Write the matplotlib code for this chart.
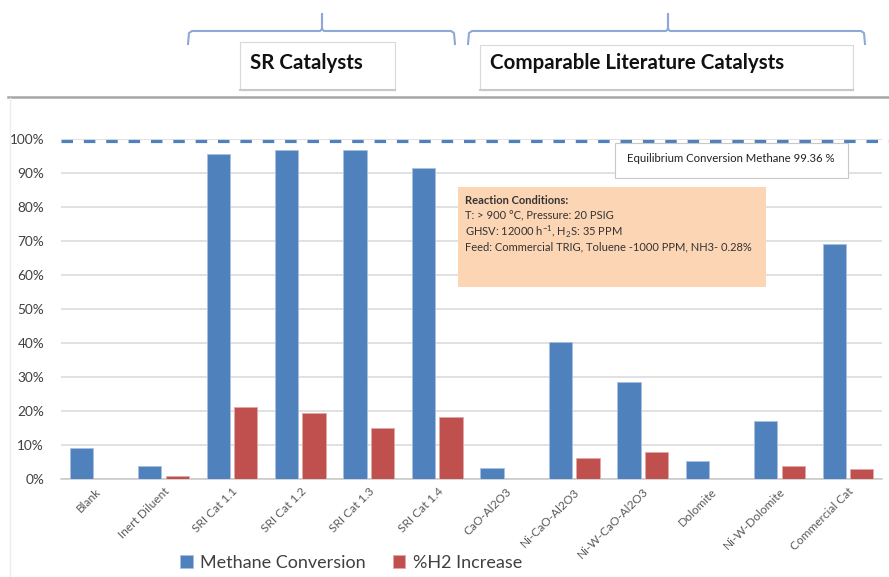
import matplotlib.pyplot as plt
from matplotlib.lines import Line2D
from matplotlib.patches import Rectangle
import numpy as np

plt.rcParams['font.family'] = ['Lato', 'DejaVu Sans']
plt.rcParams['mathtext.default'] = 'regular'

catalysts = ['Blank', 'Inert Diluent', 'SRI Cat 1.1', 'SRI Cat 1.2', 'SRI Cat 1.3',
             'SRI Cat 1.4', 'CaO-Al2O3', 'Ni-CaO-Al2O3', 'Ni-W-CaO-Al2O3',
             'Dolomite', 'Ni-W-Dolomite', 'Commercial Cat']
methane_conv = [0.092, 0.038, 0.956, 0.968, 0.968, 0.915, 0.032, 0.403, 0.285,
                0.053, 0.171, 0.691]
h2_increase = [0.0, 0.010, 0.212, 0.194, 0.150, 0.182, 0.0, 0.062, 0.079,
               0.0, 0.038, 0.029]
equilibrium = 0.9936
yticks = [0, 0.1, 0.2, 0.3, 0.4, 0.5, 0.6, 0.7, 0.8, 0.9, 1.0]

blue = '#4F81BD'
red = '#C0504D'
txt = '#404040'

W, H = 889, 577
fig = plt.figure(figsize=(W / 100, H / 100), dpi=100)


def px(x, y):
    # pixel position (from top left) -> figure fraction
    return x / W, 1 - y / H


ax = fig.add_axes([60.8 / W, 98 / H, 821.4 / W, 340 / H])

x = np.arange(len(catalysts))
ax.bar(x - 0.2, methane_conv, 0.34, color=blue, edgecolor='#A9C1E0', lw=0.6,
       label='Methane Conversion', zorder=3)
ax.bar(x + 0.2, h2_increase, 0.34, color=red, edgecolor='#E0A9A7', lw=0.6,
       label='%H2 Increase', zorder=3)

ax.set_xlim(-0.5, len(catalysts) - 0.5)
ax.set_ylim(0, 1.0)
ax.set_yticks(yticks)
ax.set_yticklabels(['%d%%' % round(v * 100) for v in yticks], fontsize=9.8, color=txt)
ax.set_xticks(x)
ax.set_xticklabels(catalysts, rotation=45, ha='right', rotation_mode='anchor',
                   fontsize=8.6, color='#595959')
ax.tick_params(length=0)
ax.tick_params(axis='x', pad=5)
ax.tick_params(axis='y', pad=12)
ax.yaxis.grid(True, color='#D9D9D9', lw=1.1, zorder=0)
for s in ['left', 'right', 'top']:
    ax.spines[s].set_visible(False)
ax.spines['bottom'].set_color('#C8C8C8')
ax.spines['bottom'].set_linewidth(1.1)

# equilibrium conversion line
eq = ax.axhline(equilibrium, xmin=0, xmax=1.01, color=blue, lw=2.3,
                dashes=(3.6, 3.4), clip_on=False, zorder=4)

# equilibrium label box
x0, y0 = px(615, 178)
x1, y1 = px(848, 143)
fig.add_artist(Rectangle((x0, y0), x1 - x0, y1 - y0, transform=fig.transFigure,
                         facecolor='white', edgecolor='#C8C8C8', lw=0.8, zorder=5))
fig.text(*px(731, 159), 'Equilibrium Conversion Methane 99.36 %', ha='center',
         va='center', fontsize=8.2, color='#222222', zorder=6)

# reaction conditions box
x0, y0 = px(458, 287)
x1, y1 = px(766, 187)
fig.add_artist(Rectangle((x0, y0), x1 - x0, y1 - y0, transform=fig.transFigure,
                         facecolor='#FCD5B5', edgecolor='none', zorder=5))
cond = [('Reaction Conditions:', 'bold', 201),
        ('T: > 900 \u00b0C, Pressure: 20 PSIG', 'normal', 216),
        ('GHSV: 12000 h$^{-1}$, H$_2$S: 35 PPM', 'normal', 232),
        ('Feed: Commercial TRIG, Toluene -1000 PPM, NH3- 0.28%', 'normal', 247)]
for s, w, yy in cond:
    fig.text(*px(465, yy), s, ha='left', va='center', fontsize=8.0, color='#333333',
             fontweight=w, zorder=6)

# separator and frame lines
fig.add_artist(Line2D([8 / W, 1], [1 - 97 / H] * 2, color='#A6A6A6', lw=1.8))
fig.add_artist(Line2D([10 / W] * 2, [0, 1 - 98 / H], color='#EDEDED', lw=1))

# group brackets
bracket_color = '#8EA9D8'
for left, mid, right in [(188, 322, 455), (468, 668, 865)]:
    pts = [(left, 44), (left + 1, 33), (left + 4, 31), (mid - 2, 31), (mid, 29),
           (mid, 14), (mid, 29), (mid + 2, 31), (right - 4, 31), (right - 1, 33),
           (right, 44)]
    xs, ys = zip(*[px(a, b) for a, b in pts])
    fig.add_artist(Line2D(xs, ys, color=bracket_color, lw=1.5))

# group titles
for (bl, bt, br, bb), title in [((240, 42, 395, 90), 'SR Catalysts'),
                                 ((480, 45, 853, 90), 'Comparable Literature Catalysts')]:
    x0, y0 = px(bl, bb)
    x1, y1 = px(br, bt)
    fig.add_artist(Rectangle((x0, y0), x1 - x0, y1 - y0, transform=fig.transFigure,
                             facecolor='white', edgecolor='#D9D9D9', lw=0.8))
    fig.add_artist(Line2D([x0, x1], [y0, y0], color='#C8C8C8', lw=1.5))
    fig.text(*px(bl + 10, 63), title, ha='left', va='center', fontsize=14.8,
             fontweight='bold', color='#111111')

fig.legend(loc='center', bbox_to_anchor=px(351, 563), ncol=2, frameon=False,
           fontsize=13.0, labelcolor=txt, handlelength=0.7, handleheight=0.7,
           handletextpad=0.4, columnspacing=1.5)

fig.savefig('out.png', dpi=100)
